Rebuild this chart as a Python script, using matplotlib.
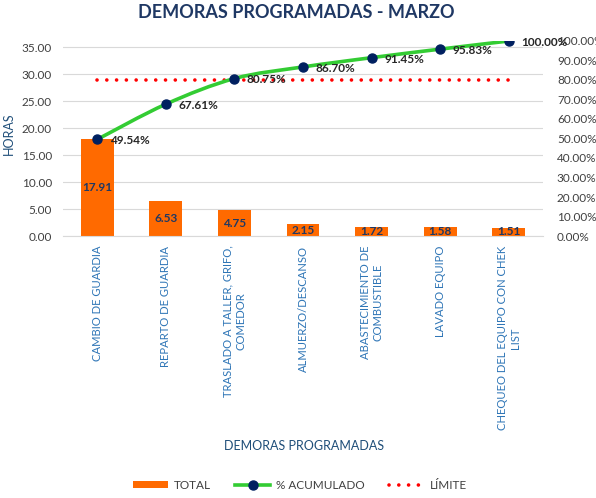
import matplotlib
matplotlib.use("Agg")
import matplotlib.pyplot as plt
import numpy as np
from matplotlib.path import Path
from matplotlib.patches import PathPatch, Patch
from matplotlib.lines import Line2D

plt.rcParams['font.family'] = ['Lato', 'DejaVu Sans']

categories = ["CAMBIO DE GUARDIA", "REPARTO DE GUARDIA", "TRASLADO A TALLER, GRIFO,\nCOMEDOR",
              "ALMUERZO/DESCANSO", "ABASTECIMIENTO DE\nCOMBUSTIBLE", "LAVADO EQUIPO",
              "CHEQUEO DEL EQUIPO CON CHEK\nLIST"]
total = [17.91, 6.53, 4.75, 2.15, 1.72, 1.58, 1.51]
acumulado = [0.4954, 0.6761, 0.8075, 0.8670, 0.9145, 0.9583, 1.0000]
limite = [0.80] * 7
left_ticks = [0, 5, 10, 15, 20, 25, 30, 35]
right_ticks = [0, 0.1, 0.2, 0.3, 0.4, 0.5, 0.6, 0.7, 0.8, 0.9, 1.0]

W, H = 596, 498
fig = plt.figure(figsize=(W/100, H/100), dpi=100)
ax = fig.add_axes([63/W, 1-236/H, (543-63)/W, (236-41)/H])
x = np.arange(len(categories))

bar_color = '#FF6A00'
ax.bar(x, total, width=0.48, color=bar_color, zorder=2)
ax.set_xlim(-0.5, len(categories)-0.5)
ax.set_ylim(0, sum(total))
ax.set_yticks(left_ticks)
ax.set_yticklabels([f"{v:.2f}" for v in left_ticks], fontsize=8.5, color='#404040')
ax.grid(axis='y', color='#D9D9D9', lw=0.8, zorder=0)
ax.set_axisbelow(True)
for s in ['top', 'right', 'left']:
    ax.spines[s].set_visible(False)
ax.spines['bottom'].set_color('#D9D9D9')
ax.tick_params(axis='both', length=0)
ax.tick_params(axis='y', pad=8)
ax.set_xticks(x)
ax.set_xticklabels(categories, rotation=90, fontsize=8.1, color='#2E75B6',
                   va='top', ha='center', multialignment='center')
ax.tick_params(axis='x', pad=7)

for xi, v in zip(x, total):
    ax.text(xi, v/2, f"{v:.2f}", ha='center', va='center', fontsize=8.5,
            fontweight='bold', color='#1F3864', zorder=3)

ax2 = ax.twinx()
ax2.set_ylim(0, 1)
ax2.set_yticks(right_ticks)
ax2.set_yticklabels([f"{v*100:.2f}%" for v in right_ticks], fontsize=8.5, color='#404040')
ax2.tick_params(axis='y', length=0, pad=10)
for s in ax2.spines.values():
    s.set_visible(False)

# limit line
ax2.plot(x, limite, color='#FF0000', lw=2.6, linestyle=(0, (0.01, 2.7)),
         dash_capstyle='round', zorder=3)

# smoothed cumulative line (Excel-like bezier)
px = np.array(x, dtype=float)
py = np.array(acumulado, dtype=float)
verts = [(px[0], py[0])]
codes = [Path.MOVETO]
n = len(px)
for i in range(n-1):
    p0 = np.array([px[max(i-1, 0)], py[max(i-1, 0)]])
    p1 = np.array([px[i], py[i]])
    p2 = np.array([px[i+1], py[i+1]])
    p3 = np.array([px[min(i+2, n-1)], py[min(i+2, n-1)]])
    c1 = p1 + (p2 - p0) / 6
    c2 = p2 - (p3 - p1) / 6
    verts += [tuple(c1), tuple(c2), tuple(p2)]
    codes += [Path.CURVE4] * 3
ax2.add_patch(PathPatch(Path(verts, codes), fill=False, edgecolor='#33CC33', lw=2.6,
                        capstyle='round', zorder=4))
ax2.plot(x, acumulado, linestyle='none', marker='o', ms=6.5, color='#002060', zorder=5)
for xi, v in zip(x, acumulado):
    ax2.annotate(f"{v*100:.2f}%", (xi, v), xytext=(9, -1), textcoords='offset points',
                 ha='left', va='center', fontsize=8.5, fontweight='bold', color='#262626',
                 zorder=6)

fig.text(0.497, 1-13/H, "DEMORAS PROGRAMADAS - MARZO", ha='center', va='center',
         fontsize=13, fontweight='bold', color='#1F3864')
fig.text(9/W, 1-134/H, "HORAS", rotation=90, ha='center', va='center',
         fontsize=9, color='#1F4E79')
fig.text(304/W, 1-446/H, "DEMORAS PROGRAMADAS", ha='center', va='center',
         fontsize=9, color='#1F4E79')

handles = [Patch(facecolor=bar_color, edgecolor='none'),
           Line2D([], [], color='#33CC33', lw=2.6, marker='o', ms=6.5,
                  markerfacecolor='#002060', markeredgecolor='#002060'),
           Line2D([], [], color='#FF0000', lw=2.6, linestyle=(0, (0.01, 2.7)),
                  dash_capstyle='round')]
fig.legend(handles, ["TOTAL", "% ACUMULADO", "LÍMITE"], loc='center',
           bbox_to_anchor=(300/W, 1-485/H), ncol=3, frameon=False, fontsize=8.5,
           handlelength=3.0, handleheight=0.6, columnspacing=2.0, handletextpad=0.5,
           labelcolor='#404040')

fig.savefig("out.png", dpi=100)
